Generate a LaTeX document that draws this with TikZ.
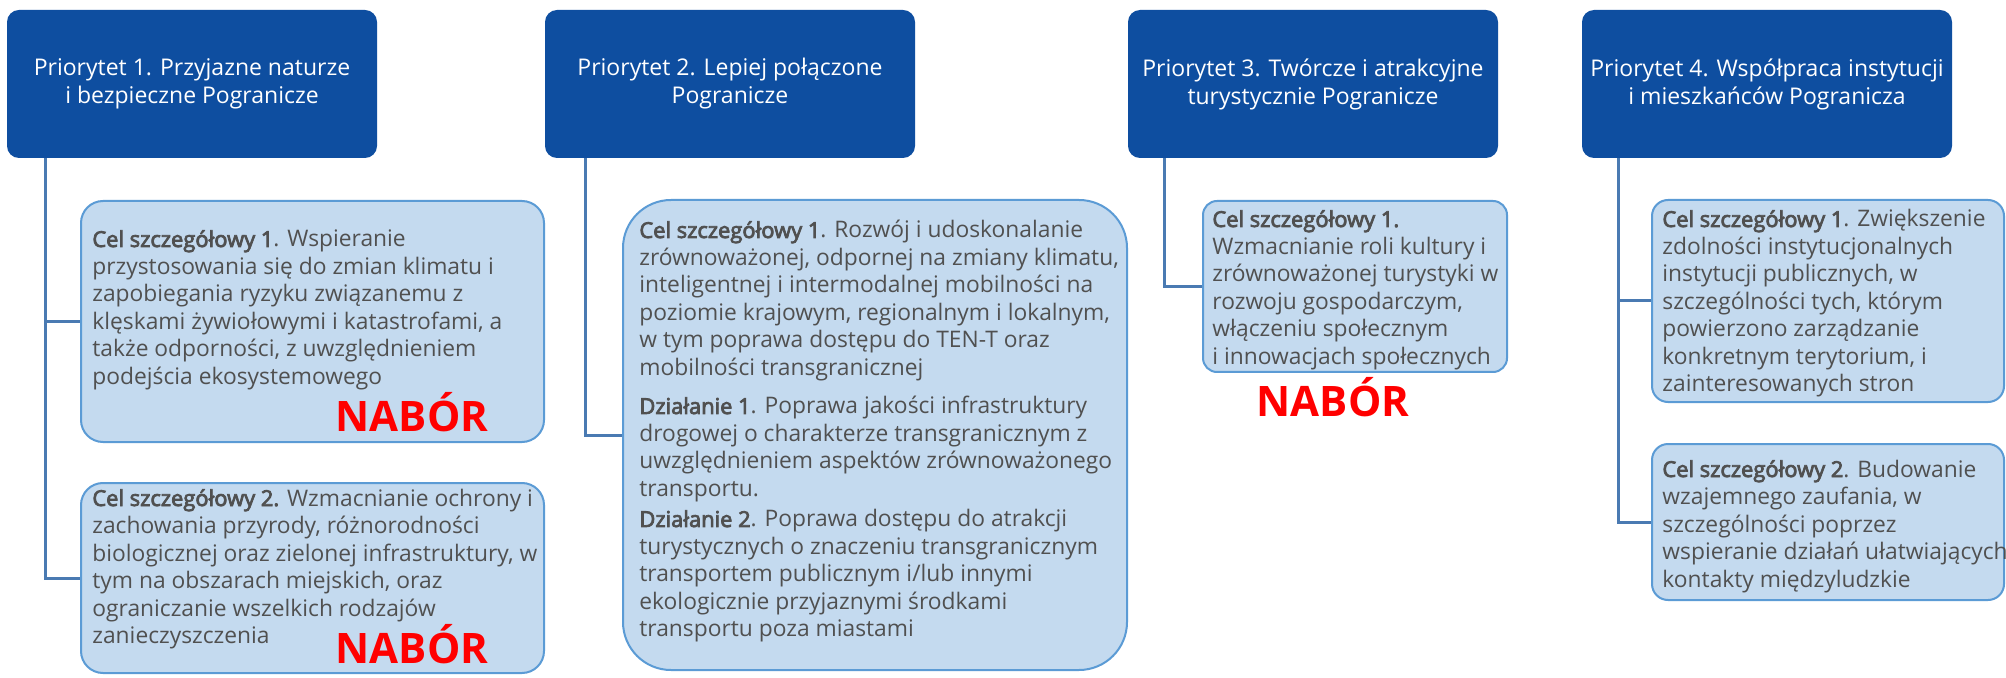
\documentclass[tikz,border=0pt]{standalone}
\usepackage{fontspec}
\setmainfont{Open Sans}
\newfontfamily\sbf{Open Sans}[FakeBold=3.5]
\definecolor{hdrblue}{RGB}{14,78,160}
\definecolor{boxfill}{RGB}{196,218,239}
\definecolor{boxline}{RGB}{91,155,213}
\definecolor{connblue}{RGB}{74,122,178}
\definecolor{bodygray}{RGB}{80,80,80}
\definecolor{nabred}{RGB}{255,0,0}
\newcommand{\hd}[1]{{\sbf\fontsize{10.95}{13.75}\selectfont #1}}
\newcommand{\txtlines}[1]{\begin{tabular}[t]{@{}l@{}}#1\end{tabular}}
\tikzset{
  hdr/.style={fill=hdrblue, draw=none, rounded corners=6pt, minimum width=185pt, minimum height=74pt,
    inner sep=0pt, text=white, align=center, font=\fontsize{11.5}{14}\selectfont},
  cbox/.style={fill=boxfill, draw=boxline, line width=1pt, inner sep=0pt},
  conn/.style={draw=connblue, line width=1.5pt},
  txt/.style={anchor=base west, inner sep=0pt, text=bodygray,
    font=\fontsize{11.4}{13.75}\selectfont},
  nabor/.style={inner sep=0pt, text=nabred, font=\bfseries\fontsize{21}{24}\selectfont}
}
\begin{document}
\begin{tikzpicture}[x=0.5pt,y=-0.5pt]
\path[use as bounding box, fill=white] (0,0) rectangle (2006,678);
% headers
\node[hdr] (h1) at (192,84) {Priorytet 1. Przyjazne naturze\\i bezpieczne Pogranicze};
\node[hdr] (h2) at (730,84) {Priorytet 2. Lepiej połączone\\Pogranicze};
\node[hdr] (h3) at (1313,84) {Priorytet 3. Twórcze i atrakcyjne\\turystycznie Pogranicze};
\node[hdr] (h4) at (1767,84) {Priorytet 4. Współpraca instytucji\\i mieszkańców Pogranicza};
% boxes
\node[cbox, rounded corners=11pt, minimum width=231.5pt, minimum height=120.5pt] (c11) at (312.5,321.5) {};
\node[cbox, rounded corners=11pt, minimum width=231.5pt, minimum height=95pt] (c12) at (312.5,578) {};
\node[cbox, rounded corners=24pt, minimum width=252pt, minimum height=235pt] (c21) at (875,435) {};
\node[cbox, rounded corners=7pt, minimum width=152pt, minimum height=85.5pt] (c31) at (1355,286.5) {};
\node[cbox, rounded corners=8pt, minimum width=176pt, minimum height=101pt] (c41) at (1828,301) {};
\node[cbox, rounded corners=8pt, minimum width=176pt, minimum height=78pt] (c42) at (1828,522) {};
% connectors
\coordinate (l1) at (45,0);
\coordinate (l2) at (585,0);
\coordinate (l3) at (1164,0);
\coordinate (l4) at (1618,0);
\draw[conn] (l1 |- h1.south) |- (c12.west);
\draw[conn] (l1 |- c11.west) -- (c11.west);
\draw[conn] (l2 |- h2.south) |- (c21.west);
\draw[conn] (l3 |- h3.south) |- (c31.west);
\draw[conn] (l4 |- h4.south) |- (c42.west);
\draw[conn] (l4 |- c41.west) -- (c41.west);
% texts
\node[txt] (t11) at (92,247) {\txtlines{\hd{Cel szczegółowy 1}. Wspieranie\\
przystosowania się do zmian klimatu i\\
zapobiegania ryzyku związanemu z\\
klęskami żywiołowymi i katastrofami, a\\
także odporności, z uwzględnieniem\\
podejścia ekosystemowego}};
\node[txt] (t12) at (92,506) {\txtlines{\hd{Cel szczegółowy 2.} Wzmacnianie ochrony i\\
zachowania przyrody, różnorodności\\
biologicznej oraz zielonej infrastruktury, w\\
tym na obszarach miejskich, oraz\\
ograniczanie wszelkich rodzajów\\
zanieczyszczenia}};
\node[txt] (t21) at (639,238) {\txtlines{\hd{Cel szczegółowy 1}. Rozwój i udoskonalanie\\
zrównoważonej, odpornej na zmiany klimatu,\\
inteligentnej i intermodalnej mobilności na\\
poziomie krajowym, regionalnym i lokalnym,\\
w tym poprawa dostępu do TEN-T oraz\\
mobilności transgranicznej\\[5.5pt]
\hd{Działanie 1}. Poprawa jakości infrastruktury\\
drogowej o charakterze transgranicznym z\\
uwzględnieniem aspektów zrównoważonego\\
transportu.\\[1.5pt]
\hd{Działanie 2}. Poprawa dostępu do atrakcji\\
turystycznych o znaczeniu transgranicznym\\
transportem publicznym i/lub innymi\\
ekologicznie przyjaznymi środkami\\
transportu poza miastami}};
\node[txt] (t31) at (1212,227) {\txtlines{\hd{Cel szczegółowy 1.}\\
Wzmacnianie roli kultury i\\
zrównoważonej turystyki w\\
rozwoju gospodarczym,\\
włączeniu społecznym\\
i innowacjach społecznych}};
\node[txt] (t41) at (1662,227) {\txtlines{\hd{Cel szczegółowy 1}. Zwiększenie\\
zdolności instytucjonalnych\\
instytucji publicznych, w\\
szczególności tych, którym\\
powierzono zarządzanie\\
konkretnym terytorium, i\\
zainteresowanych stron}};
\node[txt] (t42) at (1662,477) {\txtlines{\hd{Cel szczegółowy 2}. Budowanie\\
wzajemnego zaufania, w\\
szczególności poprzez\\
wspieranie działań ułatwiających\\
kontakty międzyludzkie}};
% NABOR labels
\node[nabor] (n1) at (412,412) {NABÓR};
\node[nabor] (n2) at (412,644) {NABÓR};
\node[nabor] (n3) at (1333,397) {NABÓR};
\end{tikzpicture}
\end{document}
